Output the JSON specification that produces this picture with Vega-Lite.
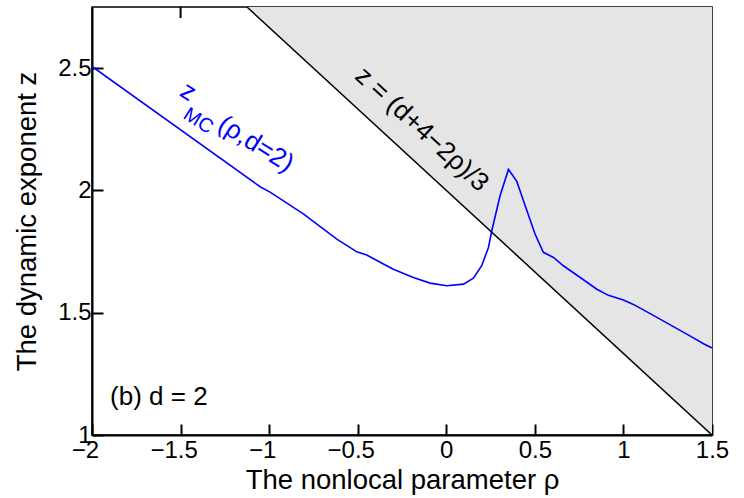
{
  "$schema": "https://vega.github.io/schema/vega-lite/v6.json",
  "width": 620,
  "height": 428,
  "autosize": {"type": "none"},
  "padding": {"left": 92, "top": 7, "right": 32, "bottom": 63},
  "background": "white",
  "config": {
    "view": {"stroke": "#000", "strokeWidth": 1.5},
    "font": "Liberation Sans",
    "axis": {
      "grid": false,
      "zindex": 1,
      "domainColor": "#000",
      "domainWidth": 2,
      "tickColor": "#000",
      "tickWidth": 2,
      "tickSize": -11,
      "labelFont": "Liberation Sans",
      "labelFontSize": 24,
      "labelColor": "#000",
      "labelFlush": false,
      "titleFont": "Liberation Sans",
      "titleFontSize": 27.5,
      "titleFontWeight": "normal",
      "titleColor": "#000"
    }
  },
  "datasets": {
    "bound": [
      {"rho": -1.125, "z": 2.75},
      {"rho": 1.5, "z": 1.0}
    ],
    "toptick": [
      {"rho": -1.5, "z": 2.75, "z2": 2.705}
    ],
    "mc": [
      {"rho": -2.0, "z": 2.507},
      {"rho": -1.051, "z": 2.015},
      {"rho": -0.995, "z": 1.993},
      {"rho": -0.807, "z": 1.904},
      {"rho": -0.618, "z": 1.801},
      {"rho": -0.505, "z": 1.749},
      {"rho": -0.449, "z": 1.736},
      {"rho": -0.355, "z": 1.699},
      {"rho": -0.299, "z": 1.678},
      {"rho": -0.186, "z": 1.644},
      {"rho": -0.091, "z": 1.621},
      {"rho": 0.003, "z": 1.61},
      {"rho": 0.097, "z": 1.617},
      {"rho": 0.153, "z": 1.641},
      {"rho": 0.2, "z": 1.692},
      {"rho": 0.238, "z": 1.767},
      {"rho": 0.257, "z": 1.836},
      {"rho": 0.304, "z": 1.979},
      {"rho": 0.351, "z": 2.086},
      {"rho": 0.398, "z": 2.037},
      {"rho": 0.445, "z": 1.938},
      {"rho": 0.501, "z": 1.822},
      {"rho": 0.548, "z": 1.747},
      {"rho": 0.605, "z": 1.726},
      {"rho": 0.661, "z": 1.692},
      {"rho": 0.756, "z": 1.644},
      {"rho": 0.85, "z": 1.596},
      {"rho": 0.915, "z": 1.571},
      {"rho": 1.0, "z": 1.552},
      {"rho": 1.056, "z": 1.534},
      {"rho": 1.169, "z": 1.489},
      {"rho": 1.282, "z": 1.443},
      {"rho": 1.395, "z": 1.397},
      {"rho": 1.452, "z": 1.373},
      {"rho": 1.5, "z": 1.356}
    ],
    "labels": [
      {"rho": -0.138, "z": 2.25, "text": "z = (d+4−2ρ)/3", "color": "black", "size": "big", "angle": 42.5},
      {"rho": -1.456, "z": 2.404, "text": "z", "color": "blue", "size": "big", "angle": 32},
      {"rho": -1.4, "z": 2.284, "text": "MC", "color": "blue", "size": "small", "angle": 32},
      {"rho": -1.075, "z": 2.19, "text": "(ρ,d=2)", "color": "blue", "size": "big", "angle": 32}
    ],
    "panel": [
      {"rho": -1.898, "z": 1.154, "text": "(b) d = 2"}
    ]
  },
  "layer": [
    {
      "data": {"name": "bound"},
      "mark": {"type": "area", "color": "#e5e5e5", "clip": true},
      "encoding": {
        "x": {
          "field": "rho", "type": "quantitative",
          "scale": {"domain": [-2, 1.5], "nice": false, "zero": false},
          "axis": {
            "values": [-2, -1.5, -1, -0.5, 0, 0.5, 1, 1.5],
            "title": "The nonlocal parameter ρ",
            "labelPadding": 14,
            "titlePadding": 4,
            "format": ".1~f",
            "labelOffset": {"condition": {"test": "datum.value < 0", "value": -7}, "value": 0}
          }
        },
        "y": {
          "field": "z", "type": "quantitative",
          "scale": {"domain": [1, 2.75], "nice": false, "zero": false},
          "axis": {
            "values": [1, 1.5, 2, 2.5],
            "title": "The dynamic exponent z",
            "labelPadding": 12,
            "titlePadding": 16,
            "format": ".1~f"
          }
        },
        "y2": {"datum": 2.75}
      }
    },
    {
      "data": {"name": "bound"},
      "mark": {"type": "line", "color": "#000", "strokeWidth": 1.5, "clip": true},
      "encoding": {
        "x": {"field": "rho", "type": "quantitative"},
        "y": {"field": "z", "type": "quantitative"}
      }
    },
    {
      "data": {"name": "toptick"},
      "mark": {"type": "rule", "color": "#000", "strokeWidth": 2},
      "encoding": {
        "x": {"field": "rho", "type": "quantitative"},
        "y": {"field": "z", "type": "quantitative"},
        "y2": {"field": "z2"}
      }
    },
    {
      "data": {"name": "mc"},
      "mark": {"type": "line", "color": "#0000ff", "strokeWidth": 1.6, "clip": true},
      "encoding": {
        "x": {"field": "rho", "type": "quantitative"},
        "y": {"field": "z", "type": "quantitative"}
      }
    },
    {
      "data": {"name": "labels"},
      "mark": {"type": "text", "baseline": "middle", "align": "center", "font": "Liberation Sans"},
      "encoding": {
        "x": {"field": "rho", "type": "quantitative"},
        "y": {"field": "z", "type": "quantitative"},
        "text": {"field": "text"},
        "angle": {"field": "angle", "type": "quantitative", "scale": null},
        "color": {"field": "color", "type": "nominal", "scale": {"domain": ["black", "blue"], "range": ["#000000", "#0000ff"]}, "legend": null},
        "size": {"field": "size", "type": "nominal", "scale": {"domain": ["big", "small"], "range": [26, 20]}, "legend": null}
      }
    },
    {
      "data": {"name": "panel"},
      "mark": {"type": "text", "baseline": "middle", "align": "left", "font": "Liberation Sans", "fontSize": 26, "color": "#000"},
      "encoding": {
        "x": {"field": "rho", "type": "quantitative"},
        "y": {"field": "z", "type": "quantitative"},
        "text": {"field": "text"}
      }
    }
  ]
}
